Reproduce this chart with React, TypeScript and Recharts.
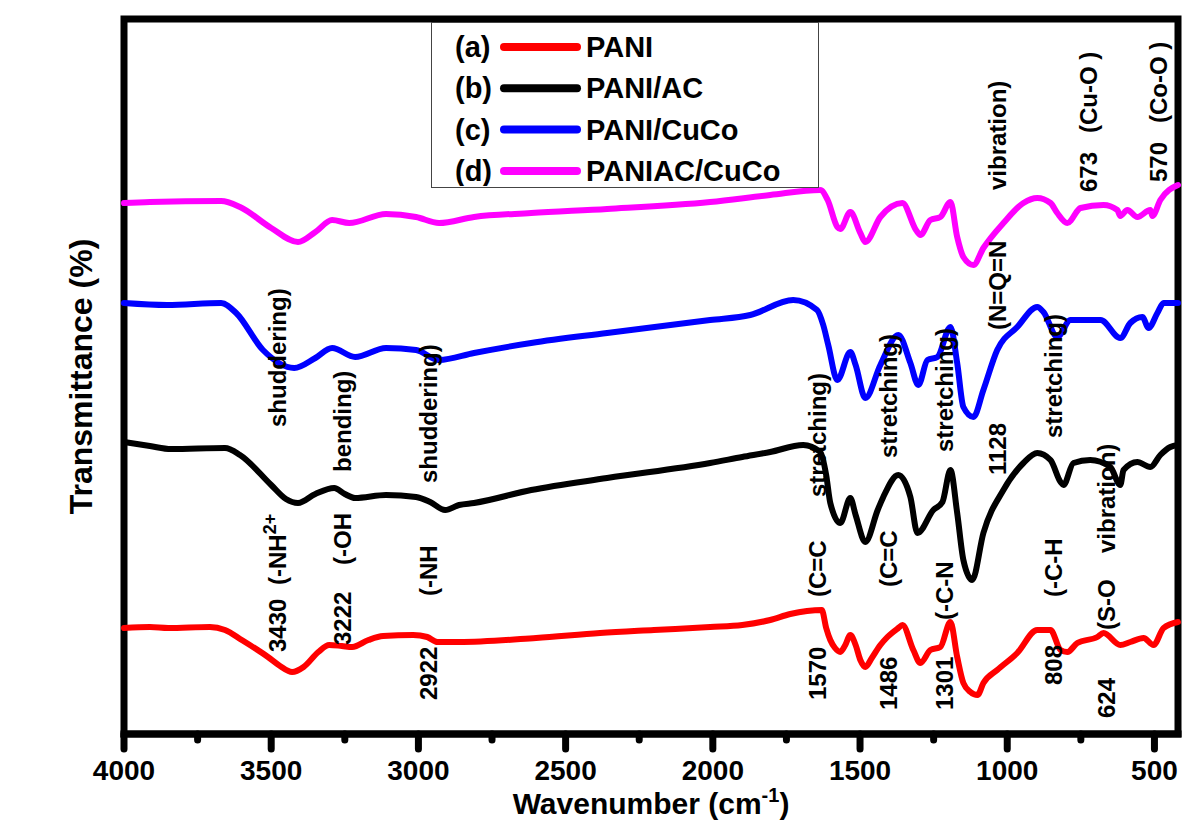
import { LineChart, Line, XAxis, YAxis, Legend, ReferenceDot, ReferenceLine, ReferenceArea } from 'recharts'

const FONT = '"Liberation Sans", Arial, Helvetica, sans-serif'

// [wavenumber (cm-1), transmittance (stacked, a.u.)]
const pani: [number, number][] = [
  [4000, 10.6], [3912, 10.7], [3850, 10.6], [3708, 10.7], [3657, 10.4], [3600, 9.4],
  [3511, 7.7], [3470, 6.8], [3429, 6.2], [3390, 6.7], [3340, 8.2], [3303, 8.9],
  [3260, 8.8], [3225, 8.7], [3170, 9.4], [3120, 9.8], [3018, 9.9], [2970, 9.7],
  [2935, 9.2], [2862, 9.2], [2600, 9.6], [2383, 10.1], [2200, 10.4], [2009, 10.7],
  [1900, 10.9], [1805, 11.4], [1737, 12.0], [1680, 12.3], [1630, 12.4], [1615, 10.6],
  [1601, 9.4], [1585, 8.6], [1567, 8.2], [1550, 8.9], [1533, 9.9], [1515, 8.9],
  [1499, 7.4], [1482, 6.7], [1460, 7.6], [1431, 8.9], [1407, 9.7], [1370, 10.6],
  [1356, 10.9], [1319, 8.4], [1295, 7.1], [1261, 8.4], [1227, 8.7], [1193, 11.2],
  [1170, 7.7], [1149, 5.1], [1125, 4.2], [1101, 3.9], [1081, 5.1], [1034, 6.4],
  [966, 8.1], [898, 10.4], [853, 10.4], [819, 8.4], [796, 8.2], [762, 9.1],
  [694, 9.7], [673, 10.1], [616, 8.9], [582, 9.2], [537, 9.6], [503, 8.9],
  [469, 10.6], [420, 11.2],
]

const paniAc: [number, number][] = [
  [4000, 29.2], [3912, 28.8], [3840, 28.5], [3657, 28.6], [3606, 27.9], [3500, 24.9],
  [3450, 23.5], [3409, 23.1], [3350, 24.0], [3286, 24.6], [3250, 24.0], [3215, 23.6],
  [3110, 23.9], [3008, 23.7], [2960, 23.2], [2909, 22.4], [2862, 22.9], [2811, 23.1],
  [2617, 24.4], [2359, 25.6], [2009, 27.1], [1900, 27.7], [1805, 28.2], [1693, 28.9],
  [1635, 28.2], [1615, 25.9], [1601, 23.1], [1567, 21.1], [1533, 23.6], [1515, 21.9],
  [1482, 19.2], [1440, 22.4], [1421, 23.7], [1370, 25.9], [1329, 23.7], [1305, 20.1],
  [1251, 22.4], [1220, 23.2], [1193, 26.4], [1170, 22.1], [1149, 17.4], [1119, 15.4],
  [1081, 20.1], [1013, 24.4], [945, 27.1], [898, 28.1], [853, 27.4], [819, 25.2],
  [809, 24.9], [775, 27.1], [718, 27.4], [650, 26.7], [616, 24.9], [605, 26.4],
  [558, 27.2], [514, 26.7], [480, 27.9], [446, 28.7], [420, 28.9],
]

const paniCuCo: [number, number][] = [
  [4000, 43.1], [3854, 42.9], [3670, 43.1], [3619, 42.1], [3528, 38.4], [3422, 36.6],
  [3350, 37.6], [3293, 38.6], [3215, 37.7], [3110, 38.6], [3008, 38.4], [2930, 37.4],
  [2811, 38.1], [2617, 39.1], [2359, 40.1], [2009, 41.4], [1873, 41.9], [1727, 43.4],
  [1646, 42.4], [1625, 40.9], [1608, 38.9], [1577, 35.4], [1533, 38.2], [1515, 36.9],
  [1482, 33.6], [1431, 36.9], [1370, 39.9], [1329, 37.1], [1302, 34.9], [1271, 37.4],
  [1237, 37.7], [1193, 40.7], [1170, 37.1], [1149, 32.7], [1115, 31.7], [1081, 34.4],
  [1034, 38.4], [966, 40.7], [898, 42.7], [877, 42.2], [830, 39.7], [785, 41.4],
  [683, 41.4], [616, 39.6], [582, 41.1], [541, 41.7], [520, 40.6], [490, 42.1],
  [469, 43.1], [420, 43.1],
]

const paniAcCuCo: [number, number][] = [
  [4000, 53.1], [3912, 53.2], [3670, 53.3], [3606, 52.7], [3500, 50.6], [3409, 49.2],
  [3350, 50.2], [3293, 51.4], [3235, 51.1], [3110, 52.0], [3008, 51.7], [2930, 51.1],
  [2811, 51.7], [2617, 52.1], [2359, 52.5], [2009, 53.2], [1805, 53.9], [1635, 54.4],
  [1610, 53.4], [1577, 50.7], [1567, 50.5], [1533, 52.2], [1499, 50.1], [1482, 49.2],
  [1431, 51.7], [1356, 53.1], [1310, 50.4], [1295, 49.9], [1261, 51.4], [1227, 51.7],
  [1193, 53.2], [1170, 49.7], [1149, 47.7], [1115, 46.9], [1081, 48.6], [1013, 51.1],
  [945, 53.1], [898, 53.6], [853, 53.1], [830, 52.1], [796, 51.1], [751, 52.6],
  [673, 52.9], [626, 52.4], [616, 51.8], [592, 52.4], [558, 51.7], [514, 52.4],
  [507, 51.8], [480, 53.4], [420, 54.9],
]

const seriesNames = ['PANI', 'PANI/AC', 'PANI/CuCo', 'PANIAC/CuCo']
const seriesTags = ['(a)', '(b)', '(c)', '(d)']
const seriesColors = ['#ff0000', '#000000', '#0000ff', '#ff00ff']
const seriesData = [pani, paniAc, paniCuCo, paniAcCuCo]

const xTicks = [4000, 3750, 3500, 3250, 3000, 2750, 2500, 2250, 2000, 1750, 1500, 1250, 1000, 750, 500]
const xDomain: [number, number] = [420, 4000]
const yDomain: [number, number] = [0, 71.5]

// peak assignments, written bottom-to-top; wn = column position, t = where the text starts
type Note = { wn: number; t: number; text: string; sup?: string }
const notes: Note[] = [
  { wn: 3450, t: 8.2, text: '3430' },
  { wn: 3450, t: 14.9, text: '(-NH', sup: '2+' },
  { wn: 3450, t: 30.7, text: 'shuddering)' },
  { wn: 3229, t: 8.9, text: '3222' },
  { wn: 3229, t: 16.9, text: '(-OH' },
  { wn: 3229, t: 26.2, text: 'bending)' },
  { wn: 2936, t: 3.4, text: '2922' },
  { wn: 2936, t: 13.8, text: '(-NH' },
  { wn: 2936, t: 25.1, text: 'shuddering)' },
  { wn: 1615, t: 3.4, text: '1570' },
  { wn: 1615, t: 13.7, text: '(C=C' },
  { wn: 1615, t: 23.7, text: 'stretching)' },
  { wn: 1373, t: 2.4, text: '1486' },
  { wn: 1373, t: 14.7, text: '(C=C' },
  { wn: 1373, t: 27.6, text: 'stretching)' },
  { wn: 1183, t: 2.4, text: '1301' },
  { wn: 1183, t: 11.4, text: '(-C-N' },
  { wn: 1183, t: 28.2, text: 'stretching)' },
  { wn: 1003, t: 25.9, text: '1128' },
  { wn: 1003, t: 40.4, text: '(N=Q=N' },
  { wn: 1003, t: 54.4, text: 'vibration)' },
  { wn: 813, t: 4.9, text: '808' },
  { wn: 813, t: 13.7, text: '(-C-H' },
  { wn: 813, t: 29.6, text: 'stretching)' },
  { wn: 633, t: 1.6, text: '624' },
  { wn: 633, t: 10.4, text: '(S-O' },
  { wn: 633, t: 18.1, text: 'vibration)' },
  { wn: 694, t: 54.2, text: '673' },
  { wn: 694, t: 60.1, text: '(Cu-O )' },
  { wn: 456, t: 55.2, text: '570' },
  { wn: 456, t: 61.1, text: '(Co-O )' },
]

function WaveTick({ x, y, payload }: any) {
  const major = payload.value % 500 === 0
  return (
    <g>
      <line x1={x} y1={y} x2={x} y2={y + (major ? 15 : 6)} stroke="#000" strokeWidth={7} strokeLinecap="round" />
      {major && (
        <text x={x} y={y + 46} textAnchor="middle" fontFamily={FONT} fontWeight="bold" fontSize={28} fill="#000">
          {payload.value}
        </text>
      )}
    </g>
  )
}

function NoteText({ viewBox, note }: any) {
  const x = viewBox.x + viewBox.width / 2
  const y = viewBox.y + viewBox.height / 2
  return (
    <text
      x={x}
      y={y}
      transform={`rotate(-90 ${x} ${y})`}
      fontFamily={FONT}
      fontWeight="bold"
      fontSize={24}
      fill="#000"
      style={{ whiteSpace: 'pre' }}
    >
      {note.text}
      {note.sup && (
        <tspan dy={-10} fontSize={18}>
          {note.sup}
        </tspan>
      )}
    </text>
  )
}

function XTitle({ viewBox }: any) {
  const x = viewBox.x + viewBox.width / 2
  const y = viewBox.y + 80
  return (
    <text x={x} y={y} textAnchor="middle" fontFamily={FONT} fontWeight="bold" fontSize={30} fill="#000">
      <tspan>Wavenumber (cm</tspan>
      <tspan dy={-12} fontSize={20}>-1</tspan>
      <tspan dy={12}>)</tspan>
    </text>
  )
}

// drawn from the left edge line's box: left of the frame, centred on the plot height
function YTitle({ viewBox }: any) {
  const x = viewBox.x - 32
  const y = viewBox.y + viewBox.height / 2
  return (
    <text
      x={x}
      y={y}
      transform={`rotate(-90 ${x} ${y})`}
      textAnchor="middle"
      fontFamily={FONT}
      fontWeight="bold"
      fontSize={32}
      fill="#000"
    >
      Transmittance (%)
    </text>
  )
}

function SampleLegend({ payload }: any) {
  const items = (payload ?? []).map((p: any) => ({ name: p.value as string, color: p.color as string }))
  return (
    <div
      style={{
        width: 388,
        height: 166,
        border: '1.5px solid #444',
        boxSizing: 'border-box',
        background: '#fff',
      }}
    >
      <svg width={385} height={163} style={{ display: 'block' }}>
        {items.map((it: any, i: number) => {
          const cy = 24 + i * 41.3
          const tag = seriesTags[seriesNames.indexOf(it.name)]
          return (
            <g key={it.name}>
              <text x={23} y={cy + 10} fontFamily={FONT} fontWeight="bold" fontSize={29} fill="#000">
                {tag}
              </text>
              <line x1={72} y1={cy} x2={145} y2={cy} stroke={it.color} strokeWidth={8} strokeLinecap="round" />
              <text x={154} y={cy + 10} fontFamily={FONT} fontWeight="bold" fontSize={29} fill="#000">
                {it.name}
              </text>
            </g>
          )
        })}
      </svg>
    </div>
  )
}

const frameLine = { stroke: '#000', strokeWidth: 7, strokeLinecap: 'square' as const }

export default function App() {
  return (
    <div style={{ position: 'absolute', left: 0, top: 0, width: 1182, height: 832, background: '#fff' }}>
      <LineChart width={1182} height={832} margin={{ top: 19, right: 4, bottom: 0, left: 124 }}>
        <XAxis
          type="number"
          dataKey="wn"
          domain={xDomain}
          reversed
          ticks={xTicks}
          interval={0}
          tickSize={0}
          tickMargin={0}
          tickLine={false}
          tick={<WaveTick />}
          height={98}
          axisLine={frameLine}
          label={(p: any) => <XTitle {...p} />}
        />
        <YAxis
          type="number"
          domain={yDomain}
          width={0}
          tick={false}
          tickLine={false}
          axisLine={{ ...frameLine, strokeWidth: 8 }}
        />
        {/* closed frame round the plot, plus the y title hung off the left edge */}
        <ReferenceArea
          x1={xDomain[0]}
          x2={xDomain[1]}
          y1={yDomain[0]}
          y2={yDomain[1]}
          fill="none"
          fillOpacity={0}
          stroke="#000"
          strokeWidth={7}
          strokeOpacity={1}
          ifOverflow="visible"
        />
        <ReferenceLine
          x={xDomain[1]}
          stroke="none"
          ifOverflow="visible"
          label={(p: any) => <YTitle {...p} />}
        />
        {seriesData.map((pts, i) => (
          <Line
            key={seriesNames[i]}
            name={seriesNames[i]}
            data={pts.map(([wn, t]) => ({ wn, t }))}
            dataKey="t"
            type="monotone"
            stroke={seriesColors[i]}
            strokeWidth={6}
            strokeLinejoin="round"
            strokeLinecap="round"
            dot={false}
            activeDot={false}
            isAnimationActive={false}
          />
        ))}
        {notes.map((n, i) => (
          <ReferenceDot
            key={i}
            x={n.wn}
            y={n.t}
            r={1}
            fill="none"
            stroke="none"
            label={(p: any) => <NoteText {...p} note={n} />}
          />
        ))}
        <Legend
          layout="horizontal"
          verticalAlign="middle"
          align="center"
          content={<SampleLegend />}
          wrapperStyle={{ left: 431, top: 22, width: 388, height: 166 }}
        />
      </LineChart>
    </div>
  )
}
